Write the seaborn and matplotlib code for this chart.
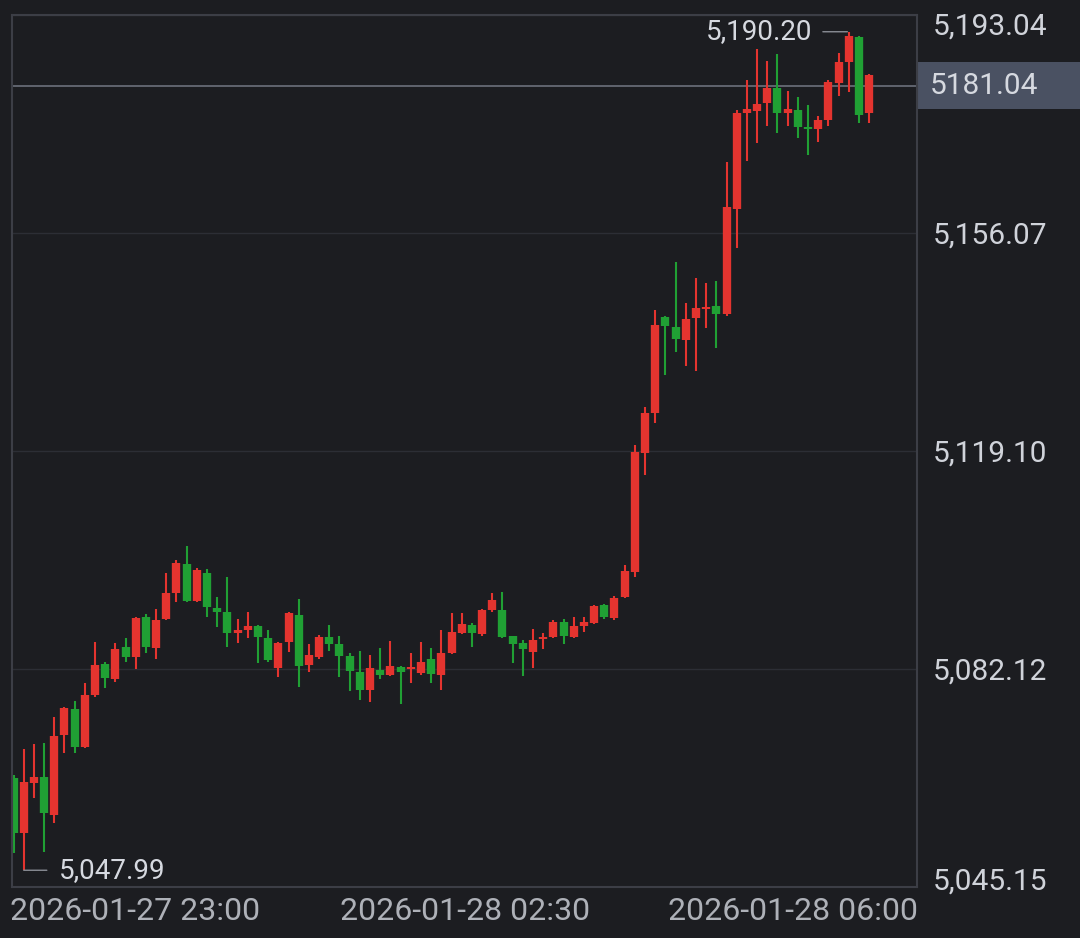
import numpy as np
import pandas as pd
import matplotlib
matplotlib.use("Agg")
import matplotlib.pyplot as plt
import matplotlib.transforms as mtransforms
from matplotlib.patches import Rectangle
import seaborn as sns
import seaborn.objects as so

# ---------------- data ----------------
opens = [5063.6, 5054.3, 5062.8, 5063.8, 5057.4, 5070.9, 5075.3, 5068.9, 5077.7, 5083.0,
         5080.4, 5085.9, 5084.2, 5090.9, 5085.7, 5090.6, 5095.0, 5099.9, 5093.7, 5098.4,
         5092.5, 5091.8, 5088.2, 5088.7, 5089.4, 5087.4, 5082.3, 5086.7, 5091.3, 5082.8,
         5084.2, 5087.5, 5086.4, 5084.3, 5081.6, 5078.6, 5082.0, 5081.1, 5082.5, 5082.1,
         5081.4, 5083.8, 5081.1, 5084.8, 5088.2, 5089.6, 5088.1, 5092.1, 5092.1, 5087.7,
         5086.5, 5085.0, 5087.2, 5087.5, 5090.1, 5087.5, 5089.4, 5089.9, 5093.0, 5090.8,
         5094.3, 5098.6, 5118.8, 5125.5, 5141.8, 5140.1, 5137.9, 5141.7, 5143.2, 5143.7,
         5142.3, 5160.1, 5176.4, 5176.8, 5178.1, 5180.7, 5176.4, 5176.9, 5174.0, 5173.7,
         5175.2, 5181.5, 5185.1, 5189.3, 5176.4]
highs = [5064.1, 5068.6, 5069.4, 5069.6, 5074.0, 5075.7, 5076.7, 5079.7, 5086.7, 5083.3,
         5086.5, 5087.4, 5090.9, 5091.5, 5092.3, 5098.4, 5100.6, 5103.0, 5099.3, 5099.1,
         5094.3, 5097.7, 5090.6, 5091.8, 5089.6, 5088.7, 5086.7, 5091.8, 5094.0, 5086.4,
         5087.9, 5089.6, 5087.7, 5084.8, 5085.2, 5084.5, 5085.7, 5086.9, 5082.6, 5084.8,
         5086.7, 5085.7, 5088.7, 5091.6, 5091.6, 5089.9, 5092.3, 5095.0, 5095.2, 5087.8,
         5087.0, 5088.9, 5088.2, 5090.4, 5090.6, 5090.9, 5090.9, 5093.0, 5093.1, 5094.5,
         5099.8, 5120.1, 5126.6, 5143.0, 5142.0, 5151.1, 5144.2, 5148.4, 5147.6, 5147.9,
         5168.1, 5176.9, 5182.0, 5187.3, 5185.2, 5186.4, 5180.2, 5179.1, 5177.8, 5175.9,
         5182.0, 5186.6, 5190.2, 5189.5, 5183.0]
lows = [5050.9, 5047.99, 5060.2, 5051.1, 5056.0, 5067.9, 5067.9, 5068.7, 5077.4, 5078.9,
        5079.9, 5083.3, 5082.1, 5084.8, 5083.8, 5090.4, 5093.5, 5093.5, 5093.5, 5090.9,
        5089.2, 5085.9, 5086.5, 5087.4, 5083.1, 5083.3, 5080.8, 5085.0, 5079.1, 5081.6,
        5083.8, 5085.2, 5080.8, 5078.4, 5076.9, 5076.5, 5080.4, 5080.9, 5076.2, 5079.7,
        5081.1, 5079.7, 5078.6, 5084.6, 5088.0, 5085.9, 5087.7, 5091.8, 5087.4, 5083.1,
        5080.9, 5082.3, 5085.5, 5087.4, 5086.4, 5087.4, 5088.4, 5089.8, 5090.6, 5090.4,
        5094.2, 5097.7, 5115.0, 5123.8, 5132.0, 5135.9, 5133.5, 5132.7, 5140.0, 5136.6,
        5142.0, 5153.5, 5168.3, 5171.3, 5174.2, 5173.0, 5174.2, 5172.2, 5169.3, 5171.5,
        5174.2, 5179.3, 5180.0, 5174.7, 5174.7]
closes = [5054.3, 5063.0, 5063.8, 5057.7, 5070.8, 5075.5, 5068.9, 5077.7, 5082.8, 5080.6,
          5085.5, 5084.2, 5090.8, 5085.9, 5090.4, 5095.0, 5100.1, 5093.7, 5098.9, 5092.6,
          5091.8, 5088.2, 5088.7, 5089.4, 5087.5, 5083.6, 5086.5, 5091.6, 5082.6, 5084.5,
          5087.5, 5086.4, 5084.3, 5081.8, 5078.6, 5082.3, 5081.1, 5082.6, 5081.6, 5082.5,
          5083.3, 5081.3, 5084.8, 5088.4, 5089.8, 5088.2, 5092.1, 5093.8, 5087.5, 5086.4,
          5085.5, 5087.0, 5087.5, 5090.1, 5087.7, 5089.4, 5090.1, 5092.8, 5090.9, 5094.2,
          5098.7, 5118.9, 5125.5, 5140.5, 5140.3, 5138.1, 5141.5, 5143.3, 5143.5, 5142.3,
          5160.5, 5176.4, 5177.1, 5177.9, 5180.7, 5176.4, 5177.1, 5174.0, 5173.7, 5175.2,
          5181.7, 5185.1, 5189.5, 5176.1, 5182.9]

y_ticks = [5045.15, 5082.12, 5119.10, 5156.07, 5193.04]
y_tick_labels = ["5,045.15", "5,082.12", "5,119.10", "5,156.07", "5,193.04"]
x_tick_labels = ["2026-01-27 23:00", "2026-01-28 02:30", "2026-01-28 06:00"]
x_tick_pos = [11.9, 44.3, 76.5]
last_price = 5181.04

# ---------------- style ----------------
BG = "#1c1d21"
RED = "#e4342f"
GREEN = "#20a034"
GRID = "#2c2e35"
FRAME = "#3c3e46"
YCOL = "#d0d3da"
XCOL = "#aeb1b8"

sns.set_theme(style="dark", rc={"figure.facecolor": BG, "axes.facecolor": BG,
                                "savefig.facecolor": BG})
plt.rcParams["font.family"] = ["Roboto", "DejaVu Sans"]

df = pd.DataFrame({"idx": np.arange(len(opens)), "open": opens, "high": highs,
                   "low": lows, "close": closes})
df["dir"] = np.where(df["close"] >= df["open"], "up", "down")
lo = np.minimum(df["open"], df["close"])
hi = np.maximum(df["open"], df["close"])
mid = (lo + hi) / 2
small = (hi - lo) < 0.3
df["body_lo"] = np.where(small, mid - 0.15, lo)
df["body_hi"] = np.where(small, mid + 0.15, hi)

fig = plt.figure(figsize=(10.8, 9.38), dpi=100, facecolor=BG)
ax = fig.add_axes([12 / 1080, 1 - 887 / 938, (917 - 12) / 1080, (887 - 15) / 938])

(
    so.Plot(df, x="idx", color="dir")
    .add(so.Range(linewidth=1.5, artist_kws={"capstyle": "butt"}), legend=False,
         ymin="low", ymax="high")
    .add(so.Range(linewidth=6.0, artist_kws={"capstyle": "butt"}), legend=False,
         ymin="body_lo", ymax="body_hi")
    .scale(color={"up": RED, "down": GREEN})
    .on(ax)
    .plot()
)

ax.set_facecolor(BG)
ax.set_xlim(-0.15, 88.7)
ax.set_ylim(y_ticks[0], y_ticks[-1])
ax.set_xlabel("")
ax.set_ylabel("")

ax.set_xticks(x_tick_pos, x_tick_labels)
ax.yaxis.tick_right()
ax.set_yticks(y_ticks, y_tick_labels)
ax.tick_params(axis="y", length=0, pad=11.5, labelsize=21.5, labelcolor=YCOL,
               left=False, right=False, labelleft=False, labelright=True)
ax.tick_params(axis="x", length=0, pad=7, labelsize=23, labelcolor=XCOL)
ylabs = ax.get_yticklabels()
ylabs[0].set_transform(ylabs[0].get_transform() +
                       mtransforms.ScaledTranslation(0, 8 / 100, fig.dpi_scale_trans))
ylabs[-1].set_transform(ylabs[-1].get_transform() +
                        mtransforms.ScaledTranslation(0, -9 / 100, fig.dpi_scale_trans))

ax.grid(False)
ax.yaxis.grid(True, color=GRID, linewidth=1.0)
ax.set_axisbelow(True)
for s in ax.spines.values():
    s.set_visible(True)
    s.set_color(FRAME)
    s.set_linewidth(1.5)

# last price line and tag
ax.axhline(last_price, color="#60646f", linewidth=1.4, zorder=0.5)
blend = mtransforms.blended_transform_factory(ax.transAxes, ax.transData)
ax.add_patch(Rectangle((1.001, last_price - 3.99), 0.2, 7.98, transform=blend,
                       facecolor="#4a5162", edgecolor="none", clip_on=False))
ax.annotate(f"{last_price:.2f}", xy=(1.0, last_price), xycoords=blend,
            xytext=(9.5, 0), textcoords="offset points", ha="left", va="center",
            fontsize=21.5, color="#d6d9e0", annotation_clip=False)

# high / low annotations
i_hi = int(np.argmax(highs))
i_lo = int(np.argmin(lows))
ax.annotate(f"{highs[i_hi]:,.2f}", xy=(i_hi, highs[i_hi]), xytext=(-26, 0),
            textcoords="offset points", ha="right", va="center", fontsize=20,
            color="#d6d9e0",
            arrowprops=dict(arrowstyle="-", color="#8a8d95", lw=1.0,
                            relpos=(1, 0.5), shrinkA=5, shrinkB=1))
ax.annotate(f"{lows[i_lo]:,.2f}", xy=(i_lo, lows[i_lo]), xytext=(25, 0),
            textcoords="offset points", ha="left", va="center", fontsize=20,
            color="#d6d9e0",
            arrowprops=dict(arrowstyle="-", color="#8a8d95", lw=1.0,
                            relpos=(0, 0.5), shrinkA=6, shrinkB=0))

fig.savefig("out.png", dpi=100, facecolor=BG)
